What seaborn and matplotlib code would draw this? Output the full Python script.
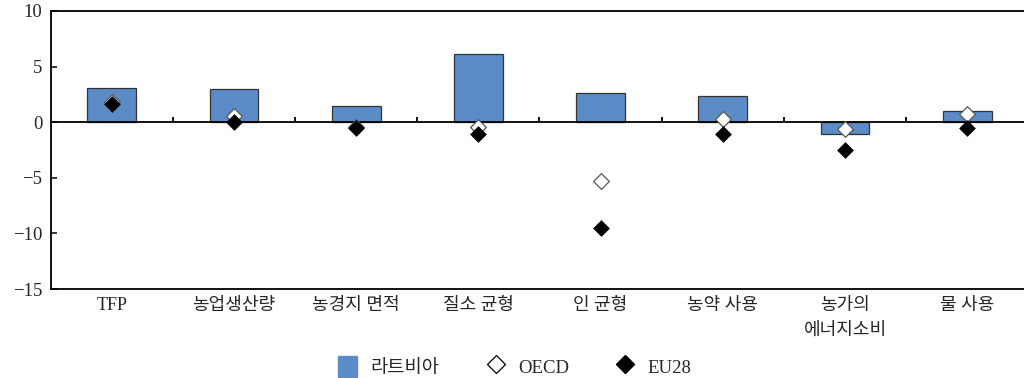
import numpy as np
import pandas as pd
import matplotlib
matplotlib.use("Agg")
import matplotlib.pyplot as plt
from matplotlib.patches import Patch
from matplotlib.lines import Line2D
import seaborn as sns

categories = ["TFP", "농업생산량", "농경지 면적", "질소 균형", "인 균형", "농약 사용", "농가의\n에너지소비", "물 사용"]
latvia = [3.1, 3.0, 1.5, 6.1, 2.6, 2.4, -1.1, 1.0]
oecd = [1.8, 0.6, -0.4, -0.45, -5.25, 0.25, -0.6, 0.7]
eu28 = [1.6, 0.0, -0.5, -1.1, -9.5, -1.1, -2.5, -0.5]
series_names = ["라트비아", "OECD", "EU28"]
yticks = [-15, -10, -5, 0, 5, 10]

sns.set_theme(style="white")
plt.rcParams["font.family"] = ["Liberation Serif", "Noto Sans CJK KR"]
plt.rcParams["axes.unicode_minus"] = True

bar_color = "#5B8CC8"

fig = plt.figure(figsize=(10.24, 3.78), dpi=100)
ax = fig.add_axes([0.0495, 0.2354, 0.9547, 0.7355])

df = pd.DataFrame({"category": categories, "latvia": latvia, "oecd": oecd, "eu28": eu28})

sns.barplot(data=df, x="category", y="latvia", color=bar_color, width=0.40,
            edgecolor="#333333", linewidth=0.9, saturation=1, ax=ax, zorder=2)
sns.stripplot(data=df, x="category", y="oecd", jitter=False, marker="D", size=8,
              color="white", edgecolor="#555555", linewidth=0.9, ax=ax, zorder=4)
sns.stripplot(data=df, x="category", y="eu28", jitter=False, marker="D", size=8,
              color="black", edgecolor="black", linewidth=0.5, ax=ax, zorder=5)

ax.set_xlim(-0.5, len(categories) - 0.5)
ax.set_ylim(-15, 10)
ax.set_yticks(yticks)
ax.set_xlabel("")
ax.set_ylabel("")

# zero line with small separators between categories
ax.axhline(0, color="black", linewidth=1.3, zorder=3)
ax.vlines(np.arange(0.5, len(categories) - 0.5), 0, 0.45, color="black", linewidth=1.3, zorder=3)

for side in ["left", "top", "bottom"]:
    ax.spines[side].set_visible(True)
    ax.spines[side].set_color("black")
    ax.spines[side].set_linewidth(1.3)
ax.spines["right"].set_visible(False)

ax.tick_params(axis="y", direction="in", length=4.5, width=1.1, color="black",
               labelsize=13.5, pad=6, left=True)
ax.tick_params(axis="x", length=0, labelsize=13, pad=6)
for lbl in ax.get_xticklabels():
    lbl.set_linespacing(1.55)
    lbl.set_verticalalignment("top")
ax.set_yticklabels([f"{v}".replace("-", "\u2212") for v in yticks])

handles = [
    Patch(facecolor=bar_color, edgecolor=bar_color),
    Line2D([], [], linestyle="none", marker="D", markersize=9, markerfacecolor="white",
           markeredgecolor="black", markeredgewidth=0.9),
    Line2D([], [], linestyle="none", marker="D", markersize=9, markerfacecolor="black",
           markeredgecolor="black"),
]
fig.legend(handles, series_names, loc="center", bbox_to_anchor=(0.503, 0.03), ncol=3,
           frameon=False, fontsize=13.5, handlelength=1.0, handleheight=1.4,
           handletextpad=0.7, columnspacing=2.5)

fig.savefig("out.png", dpi=100)
